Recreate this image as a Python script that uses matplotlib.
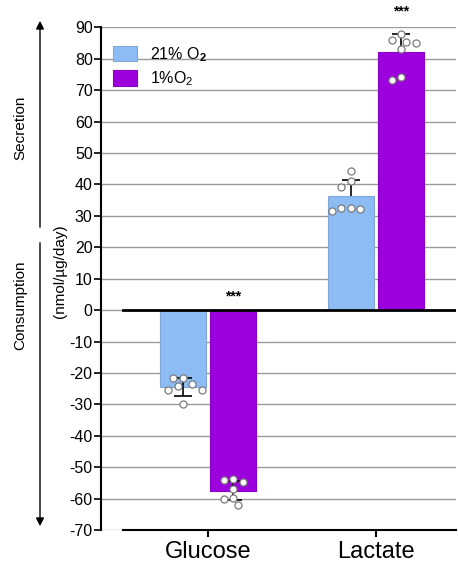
import numpy as np
import matplotlib
matplotlib.use('Agg')
import matplotlib.pyplot as plt
from matplotlib.patches import FancyArrowPatch

plt.rcParams['font.family'] = ['Liberation Sans', 'DejaVu Sans']
plt.rcParams['mathtext.fontset'] = 'custom'
plt.rcParams['mathtext.rm'] = 'Liberation Sans'
plt.rcParams['mathtext.it'] = 'Liberation Sans'
plt.rcParams['mathtext.bf'] = 'Liberation Sans:bold'
plt.rcParams['axes.unicode_minus'] = False

# Metabolite flux per condition (negative = consumption, positive = secretion)
categories = ['Glucose', 'Lactate']
conditions = ['21% O$_\\mathbf{2}$', '1%O$_2$']
mean_21 = [-24.5, 36.3]
mean_1 = [-57.5, 82.2]
sd_21 = [3.0, 5.0]
sd_1 = [3.0, 5.7]
signif = ['***', '***']

# Individual replicates
pts_21 = [
    [-23.6, -21.7, -21.7, -24.2, -25.5, -25.5, -29.9],
    [44.3, 41.1, 39.2, 32.5, 31.5, 32.2, 32.5],
]
pts_1 = [
    [-53.8, -54.8, -54.1, -57.0, -59.9, -62.1, -60.2],
    [85.0, 86.0, 87.9, 85.4, 83.1, 73.2, 74.2],
]

colors = ['#8dbcf4', '#9c00dc']
edges = ['#7fa6d6', '#8a00c4']
yticks = list(range(-70, 91, 10))

W, H = 458, 563
fig = plt.figure(figsize=(W / 100, H / 100), dpi=100)
ax = fig.add_axes([101 / W, 1 - 530 / H, 355 / W, 502.6 / H])

x = np.arange(len(categories))
width = 0.275
offset = 0.15
xlim = (-0.637, 1.476)
ylim = (-70, 90)

# pixel scale, used to lay out the dots as a small swarm
px_x = 355 / (xlim[1] - xlim[0])
px_y = 502.6 / (ylim[1] - ylim[0])


def swarm(values, diam=8.0):
    placed = []
    out = np.zeros(len(values))
    order = np.argsort(values)[::-1]
    for i in order:
        yv = values[i] * px_y
        best = None
        for k in range(0, 12):
            for s in ([0] if k == 0 else [-1, 1]):
                cand = s * k * diam * 0.6
                if all(np.hypot(cand - px, yv - py) >= diam for px, py in placed):
                    if best is None or abs(cand) < abs(best):
                        best = cand
            if best is not None:
                break
        placed.append((best, yv))
        out[i] = best / px_x
    return out


ax.set_xlim(*xlim)
ax.set_ylim(*ylim)
ax.set_yticks(yticks)
ax.yaxis.grid(True, color='#9a9a9a', linewidth=1.0)
ax.set_axisbelow(True)

for j, (means, sds, pts, col, ec, lab) in enumerate(
        [(mean_21, sd_21, pts_21, colors[0], edges[0], conditions[0]),
         (mean_1, sd_1, pts_1, colors[1], edges[1], conditions[1])]):
    xs = x + (2 * j - 1) * offset
    ax.bar(xs, means, width, color=col, edgecolor=ec, linewidth=0.8,
           label=lab, zorder=2)
    for i in range(len(categories)):
        z = 3 if means[i] < 0 else 1.5
        ax.errorbar(xs[i], means[i], yerr=sds[i], color='black', lw=1.2,
                    capsize=6.5, capthick=1.2, zorder=z)
        dx = swarm(np.array(pts[i]))
        ax.scatter(xs[i] + dx, pts[i], s=26, facecolor='white',
                   edgecolor='#7a7a7a', linewidth=0.9, zorder=4)

# significance marks over the hypoxia bars (clear of the dots on secreted side)
for i in range(len(categories)):
    top = max(mean_1[i] + sd_1[i], 0)
    lift = 10 if top == 0 else 16
    ax.annotate(signif[i], (x[i] + offset, top), xytext=(0, lift),
                textcoords='offset points', ha='center', va='center',
                fontsize=10, fontweight='bold', annotation_clip=False)

ax.axhline(0, xmin=(-0.506 - xlim[0]) / (xlim[1] - xlim[0]), xmax=1,
           color='black', lw=2, zorder=3)

for s in ['top', 'right']:
    ax.spines[s].set_visible(False)
ax.spines['left'].set_linewidth(1.5)
ax.spines['bottom'].set_linewidth(1.5)
ax.spines['bottom'].set_bounds(-0.506, xlim[1])

ax.set_xticks(x)
ax.set_xticklabels(categories, fontsize=17)
ax.tick_params(axis='y', labelsize=11.5, length=5, width=1.2, pad=1)
ax.tick_params(axis='x', length=5, width=1.5, pad=3)

ax.set_ylabel('(nmol/µg/day)', fontsize=11)
ax.yaxis.set_label_coords(-0.095, (530 - 271) / 502.6)

leg = ax.legend(loc='upper left', bbox_to_anchor=(0.002, 0.987), frameon=False,
                fontsize=11.5, handlelength=1.5, handleheight=1.1,
                handletextpad=0.8, labelspacing=0.35, borderpad=0.2)

# Secretion / consumption arrows on the far left
fig.add_artist(FancyArrowPatch(
    (40 / W, 1 - 230 / H), (40 / W, 1 - 18 / H), transform=fig.transFigure,
    arrowstyle='-|>', mutation_scale=12, color='black', lw=1.0))
fig.add_artist(FancyArrowPatch(
    (40 / W, 1 - 240 / H), (40 / W, 1 - 529 / H), transform=fig.transFigure,
    arrowstyle='-|>', mutation_scale=12, color='black', lw=1.0))
fig.text(20 / W, 1 - 128 / H, 'Secretion', rotation=90, ha='center',
         va='center', fontsize=11)
fig.text(20 / W, 1 - 305 / H, 'Consumption', rotation=90, ha='center',
         va='center', fontsize=11)

fig.savefig('out.png', dpi=100)
